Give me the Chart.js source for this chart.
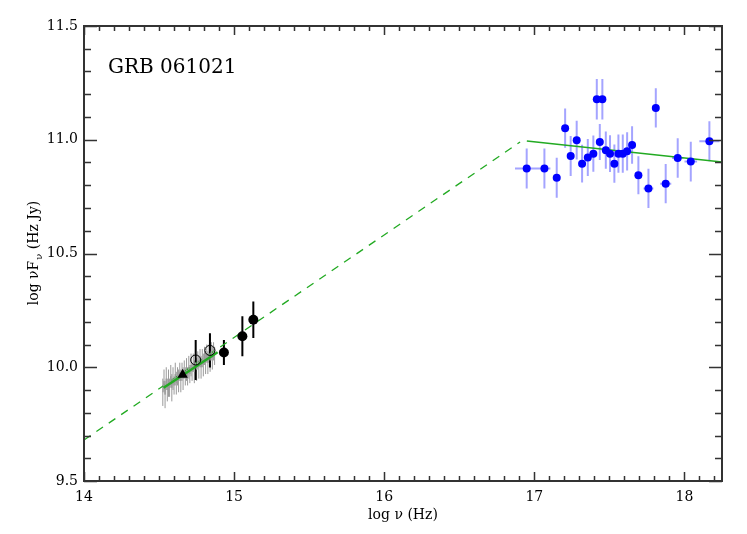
<!DOCTYPE html>
<html lang="en">
<head>
<meta charset="UTF-8">
<title>GRB 061021 SED</title>
<script src="https://cdn.jsdelivr.net/npm/chart.js"></script>
<style>
  body { margin: 0; background: #fff; }
  #wrap { width: 747px; height: 534px; }
</style>
</head>
<body>
<div id="wrap"><canvas id="sed" width="747" height="534"></canvas></div>
<script>
// optical spectrum (gray, jagged)
const specX = [14.525, 14.533, 14.540, 14.548, 14.555, 14.563, 14.570, 14.578, 14.585, 14.593, 14.600, 14.608,
               14.615, 14.623, 14.630, 14.638, 14.645, 14.653, 14.660, 14.668, 14.675, 14.683, 14.690, 14.698,
               14.705, 14.713, 14.720, 14.728, 14.735, 14.743, 14.750, 14.758, 14.765, 14.773, 14.780, 14.788,
               14.795, 14.803, 14.810, 14.818, 14.825, 14.833, 14.840, 14.848, 14.855, 14.863, 14.870];
const specY = [9.89, 9.94, 9.88, 9.95, 9.90, 9.93, 9.91, 9.96, 9.91, 9.95, 9.92, 9.97,
               9.93, 9.96, 9.94, 9.98, 9.94, 9.98, 9.95, 9.99, 9.96, 9.99, 9.96, 10.00,
               9.97, 10.01, 9.98, 10.02, 9.98, 10.02, 9.99, 10.03, 10.00, 10.04, 10.00, 10.04,
               10.01, 10.05, 10.02, 10.06, 10.02, 10.06, 10.03, 10.07, 10.04, 10.07, 10.05];
const specErr = [0.06, 0.05, 0.06, 0.05, 0.05, 0.06, 0.04, 0.05, 0.06, 0.05, 0.04, 0.05,
                 0.05, 0.04, 0.05, 0.04, 0.05, 0.04, 0.05, 0.04, 0.04, 0.05, 0.04, 0.05,
                 0.04, 0.05, 0.04, 0.04, 0.05, 0.04, 0.05, 0.04, 0.05, 0.04, 0.05, 0.04,
                 0.05, 0.04, 0.05, 0.04, 0.05, 0.04, 0.05, 0.04, 0.05, 0.04, 0.04];

// optical photometry
const triX = [14.657];
const triY = [9.967];
const openX = [14.744, 14.839];
const openY = [10.032, 10.074];
const openErr = [0.088, 0.075];
const dotX = [14.932, 15.055, 15.128];
const dotY = [10.065, 10.136, 10.209];
const dotErr = [0.055, 0.088, 0.080];

// X-ray points
const xrX = [16.949, 17.067, 17.149, 17.205, 17.242, 17.282, 17.318, 17.356, 17.393, 17.416, 17.453, 17.436, 17.476,
             17.504, 17.533, 17.560, 17.589, 17.618, 17.651, 17.693, 17.760, 17.809, 17.875, 17.955, 18.042, 18.166];
const xrY = [10.874, 10.874, 10.833, 11.051, 10.929, 10.998, 10.895, 10.922, 10.939, 11.178, 11.178, 10.990, 10.954,
             10.939, 10.895, 10.939, 10.939, 10.949, 10.977, 10.844, 10.786, 11.140, 10.807, 10.920, 10.904, 10.993];
const xrYErr = [0.088, 0.088, 0.088, 0.086, 0.088, 0.085, 0.083, 0.081, 0.080, 0.089, 0.089, 0.079, 0.082,
                0.081, 0.084, 0.084, 0.084, 0.084, 0.082, 0.084, 0.086, 0.086, 0.086, 0.087, 0.087, 0.088];
const xrXErr = [0.078, 0.040, 0.020, 0.010, 0.012, 0.012, 0.010, 0.012, 0.010, 0.010, 0.010, 0.012, 0.012,
                0.012, 0.012, 0.012, 0.012, 0.015, 0.015, 0.015, 0.033, 0.015, 0.037, 0.038, 0.042, 0.067];

// model lines
const modelX = [14.0, 16.905];
const modelY = [9.68, 10.99];
const xrFitX = [16.95, 18.25];
const xrFitY = [10.994, 10.902];
const optFitX = [14.53, 14.89];
const optFitY = [9.91, 10.066];

const xTicks = [14, 15, 16, 17, 18];
const yTicks = [9.5, 10.0, 10.5, 11.0, 11.5];

const GREEN = '#22aa22';
const SERIF = '"DejaVu Serif", "Liberation Serif", serif';

function pts(xs, ys) {
    return xs.map((x, i) => ({ x: x, y: ys[i] }));
}

// error bars, frame with inward ticks, axis titles and label
const decor = {
    id: 'decor',
    beforeDatasetsDraw(chart) {
        const c = chart.ctx, xs = chart.scales.x, ys = chart.scales.y;
        function bars(X, Y, E, XE, color, w) {
            c.save();
            c.strokeStyle = color;
            c.lineWidth = w;
            c.beginPath();
            for (let i = 0; i < X.length; i++) {
                const px = xs.getPixelForValue(X[i]);
                c.moveTo(px, ys.getPixelForValue(Y[i] - E[i]));
                c.lineTo(px, ys.getPixelForValue(Y[i] + E[i]));
                if (XE) {
                    const py = ys.getPixelForValue(Y[i]);
                    c.moveTo(xs.getPixelForValue(X[i] - XE[i]), py);
                    c.lineTo(xs.getPixelForValue(X[i] + XE[i]), py);
                }
            }
            c.stroke();
            c.restore();
        }
        bars(specX, specY, specErr, null, '#9a9a9a', 1);
        bars(openX, openY, openErr, null, '#000', 2);
        bars(dotX, dotY, dotErr, null, '#000', 2);
        bars(xrX, xrY, xrYErr, xrXErr, 'rgba(90,90,255,0.55)', 2);
    },
    afterDraw(chart) {
        const c = chart.ctx, a = chart.chartArea, xs = chart.scales.x, ys = chart.scales.y;
        c.save();
        c.strokeStyle = '#333';
        c.lineWidth = 2;
        c.strokeRect(a.left, a.top, a.right - a.left, a.bottom - a.top);
        c.lineWidth = 1.5;
        c.beginPath();
        for (let k = 140; k <= 182; k++) {
            const v = k / 10;
            const px = Math.round(xs.getPixelForValue(v)) + 0.5;
            const len = (k % 10 === 0) ? 9 : 5;
            c.moveTo(px, a.bottom); c.lineTo(px, a.bottom - len);
            c.moveTo(px, a.top); c.lineTo(px, a.top + len);
        }
        for (let k = 95; k <= 115; k++) {
            const v = k / 10;
            const py = Math.round(ys.getPixelForValue(v)) + 0.5;
            const len = (k % 5 === 0) ? 13 : 7;
            c.moveTo(a.left, py); c.lineTo(a.left + len, py);
            c.moveTo(a.right, py); c.lineTo(a.right - len, py);
        }
        c.stroke();

        c.fillStyle = '#000';
        // label
        c.font = '20px ' + SERIF;
        c.textBaseline = 'alphabetic';
        c.textAlign = 'left';
        c.fillText('GRB 061021', 108, 73);

        // x title
        c.font = '14px ' + SERIF;
        c.textAlign = 'center';
        c.fillText('log \u03BD (Hz)', (a.left + a.right) / 2, 519);

        // y title with subscript
        const p1 = 'log \u03BDF', sub = '\u03BD', p2 = ' (Hz Jy)';
        c.font = '14px ' + SERIF;
        const w1 = c.measureText(p1).width, w3 = c.measureText(p2).width;
        c.font = '10px ' + SERIF;
        const w2 = c.measureText(sub).width;
        const total = w1 + w2 + w3;
        c.translate(38, (a.top + a.bottom) / 2);
        c.rotate(-Math.PI / 2);
        c.textAlign = 'left';
        c.font = '14px ' + SERIF;
        c.fillText(p1, -total / 2, 0);
        c.font = '10px ' + SERIF;
        c.fillText(sub, -total / 2 + w1 + 1, 4);
        c.font = '14px ' + SERIF;
        c.fillText(p2, -total / 2 + w1 + w2 + 1, 0);
        c.restore();
    }
};

new Chart(document.getElementById('sed'), {
    type: 'scatter',
    data: {
        datasets: [
            { data: pts(xrX, xrY), pointRadius: 4, pointBackgroundColor: '#0000ff', pointBorderWidth: 0, order: 0 },
            { data: pts(dotX, dotY), pointRadius: 5, pointBackgroundColor: '#000', pointBorderWidth: 0, order: 0 },
            { data: pts(openX, openY), pointRadius: 5, pointBackgroundColor: 'rgba(0,0,0,0)', pointBorderColor: '#000', pointBorderWidth: 1, order: 0 },
            { data: pts(triX, triY), pointStyle: 'triangle', pointRadius: 6, pointBackgroundColor: '#000', pointBorderWidth: 0, order: 0 },
            { type: 'line', data: pts(optFitX, optFitY), borderColor: GREEN, borderWidth: 2.5, pointRadius: 0, order: 1 },
            { type: 'line', data: pts(xrFitX, xrFitY), borderColor: GREEN, borderWidth: 1.5, pointRadius: 0, order: 1 },
            { type: 'line', data: pts(specX, specY), borderColor: '#9a9a9a', borderWidth: 1, pointRadius: 0, order: 2 },
            { type: 'line', data: pts(modelX, modelY), borderColor: GREEN, borderWidth: 1.3, borderDash: [8, 7], pointRadius: 0, order: 3 }
        ]
    },
    options: {
        responsive: false,
        animation: false,
        layout: { padding: { top: 26, right: 25, left: 0, bottom: 0 } },
        plugins: { legend: { display: false }, tooltip: { enabled: false } },
        scales: {
            x: {
                type: 'linear', min: 14, max: 18.25,
                grid: { display: false, drawTicks: false },
                border: { display: false },
                afterFit(s) { s.height = 53; },
                afterBuildTicks(s) { s.ticks = xTicks.map(v => ({ value: v })); },
                ticks: { padding: 8, color: '#000', font: { family: SERIF, size: 14 }, callback: v => String(v) }
            },
            y: {
                type: 'linear', min: 9.5, max: 11.5,
                grid: { display: false, drawTicks: false },
                border: { display: false },
                afterFit(s) { s.width = 84; },
                afterBuildTicks(s) { s.ticks = yTicks.map(v => ({ value: v })); },
                ticks: { padding: 6, color: '#000', font: { family: SERIF, size: 14 }, callback: v => v.toFixed(1) }
            }
        }
    },
    plugins: [decor]
});
</script>
</body>
</html>
